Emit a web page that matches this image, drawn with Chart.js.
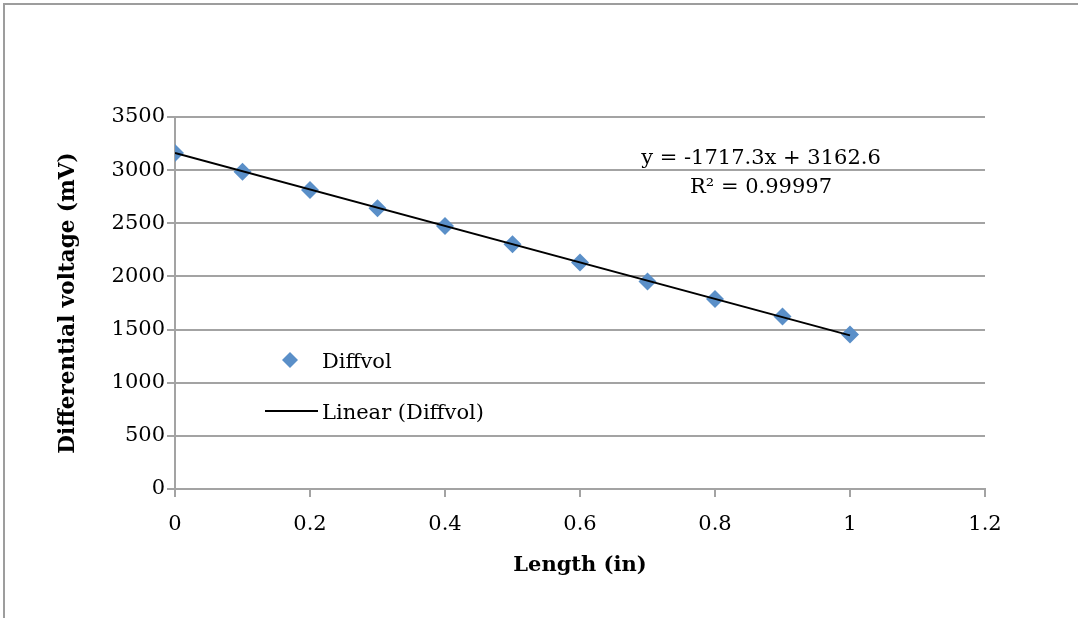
<!DOCTYPE html>
<html lang="en">
<head>
    <meta charset="UTF-8"/>
    <title>Differential voltage vs Length</title>
    <script src="https://cdn.jsdelivr.net/npm/chart.js"></script>
    <style>
        html, body {
            margin: 0;
            padding: 0;
            background: #fff;
            width: 100%;
            height: 100%;
            overflow: hidden;
        }
        .frame {
            position: absolute;
            left: 3px;
            top: 3px;
            width: 2000px;
            height: 2000px;
            border-left: 2px solid #9d9d9d;
            border-top: 2px solid #9d9d9d;
        }
        .chart-box {
            position: absolute;
            left: 0;
            top: 0;
            width: 1078px;
            height: 618px;
        }
    </style>
</head>
<body>
<div class="frame"></div>
<div class="chart-box">
    <canvas id="diffChart"></canvas>
</div>

<script>
    // measured points
    const lengths = [0, 0.1, 0.2, 0.3, 0.4, 0.5, 0.6, 0.7, 0.8, 0.9, 1.0];
    const diffvol = [3162, 2984, 2813, 2641, 2475, 2303, 2131, 1953, 1788, 1622, 1453];

    // trendline end points, y = -1717.3x + 3162.6
    const trendX = [0, 1];
    const trendY = [3162.6, 1445.3];

    const equationLines = ['y = -1717.3x + 3162.6', 'R\u00B2 = 0.99997'];
    const legendLabels = ['Diffvol', 'Linear (Diffvol)'];

    const SERIF = "'DejaVu Serif', 'Liberation Serif', serif";
    const GRID = '#a3a3a3';
    const BLUE = '#5a8fc8';

    // legend inside the plot + trendline label
    const overlayPlugin = {
        id: 'overlay',
        afterDatasetsDraw(chart) {
            const ctx = chart.ctx;
            const area = chart.chartArea;
            ctx.save();
            ctx.fillStyle = '#000';
            ctx.font = '21px ' + SERIF;
            ctx.textBaseline = 'middle';

            // equation
            ctx.textAlign = 'center';
            ctx.fillText(equationLines[0], area.left + 586, area.top + 42);
            ctx.fillText(equationLines[1], area.left + 586, area.top + 71);

            // legend symbol: diamond
            ctx.fillStyle = BLUE;
            ctx.beginPath();
            ctx.moveTo(area.left + 115, area.top + 235);
            ctx.lineTo(area.left + 123, area.top + 243);
            ctx.lineTo(area.left + 115, area.top + 251);
            ctx.lineTo(area.left + 107, area.top + 243);
            ctx.closePath();
            ctx.fill();

            // legend symbol: line
            ctx.strokeStyle = '#000';
            ctx.lineWidth = 2;
            ctx.beginPath();
            ctx.moveTo(area.left + 90, area.top + 294);
            ctx.lineTo(area.left + 143, area.top + 294);
            ctx.stroke();

            ctx.fillStyle = '#000';
            ctx.textAlign = 'left';
            ctx.fillText(legendLabels[0], area.left + 147, area.top + 246);
            ctx.fillText(legendLabels[1], area.left + 147, area.top + 297);
            ctx.restore();
        }
    };

    const ctx = document.getElementById('diffChart').getContext('2d');
    new Chart(ctx, {
        type: 'scatter',
        data: {
            datasets: [
                {
                    label: legendLabels[0],
                    data: lengths.map((x, i) => ({x: x, y: diffvol[i]})),
                    pointStyle: 'rectRot',
                    pointRadius: 9,
                    pointBackgroundColor: BLUE,
                    pointBorderColor: BLUE,
                    pointBorderWidth: 0,
                    order: 2
                },
                {
                    label: legendLabels[1],
                    type: 'line',
                    data: trendX.map((x, i) => ({x: x, y: trendY[i]})),
                    borderColor: '#000',
                    borderWidth: 2,
                    pointRadius: 0,
                    fill: false,
                    order: 1
                }
            ]
        },
        options: {
            responsive: true,
            maintainAspectRatio: false,
            animation: false,
            layout: {padding: {left: 56, top: 117, right: 93, bottom: 40}},
            plugins: {
                legend: {display: false},
                tooltip: {enabled: false}
            },
            scales: {
                x: {
                    type: 'linear',
                    min: 0,
                    max: 1.2,
                    ticks: {
                        stepSize: 0.2,
                        color: '#000',
                        font: {family: SERIF, size: 21},
                        padding: 15,
                        maxRotation: 0,
                        callback: v => String(parseFloat(v.toFixed(1)))
                    },
                    grid: {drawOnChartArea: false, drawTicks: true, tickLength: 8, color: GRID, lineWidth: 2},
                    border: {color: GRID, width: 2},
                    title: {
                        display: true,
                        text: 'Length (in)',
                        color: '#000',
                        font: {family: SERIF, size: 21, weight: 'bold'},
                        padding: 0
                    },
                    afterFit: s => { s.height = 89; }
                },
                y: {
                    min: 0,
                    max: 3500,
                    ticks: {
                        stepSize: 500,
                        color: '#000',
                        font: {family: SERIF, size: 21},
                        padding: 2,
                        callback: v => String(v)
                    },
                    grid: {color: GRID, lineWidth: 2, drawTicks: true, tickLength: 8},
                    border: {color: GRID, width: 2},
                    title: {
                        display: true,
                        text: 'Differential voltage (mV)',
                        color: '#000',
                        font: {family: SERIF, size: 21.5, weight: 'bold'},
                        padding: 0
                    },
                    afterFit: s => { s.width = 119; }
                }
            }
        },
        plugins: [overlayPlugin]
    });
</script>
</body>
</html>
